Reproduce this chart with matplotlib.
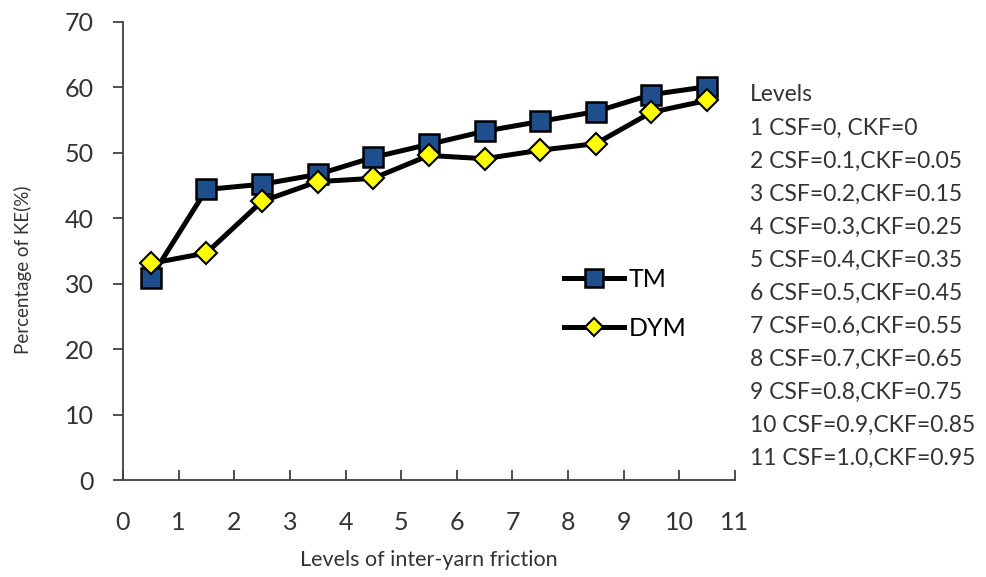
import numpy as np
import matplotlib
matplotlib.use("Agg")
import matplotlib.pyplot as plt

plt.rcParams['font.family'] = ['Lato', 'DejaVu Sans']

# levels sit between the integer ticks
levels = [0.5, 1.5, 2.5, 3.5, 4.5, 5.5, 6.5, 7.5, 8.5, 9.5, 10.5]
tm = [30.9, 44.4, 45.2, 46.7, 49.3, 51.3, 53.3, 54.8, 56.3, 58.9, 60.1]
dym = [33.1, 34.7, 42.6, 45.6, 46.1, 49.6, 49.1, 50.4, 51.4, 56.2, 58.0]

level_notes = ["Levels",
               "1 CSF=0, CKF=0",
               "2 CSF=0.1,CKF=0.05",
               "3 CSF=0.2,CKF=0.15",
               "4 CSF=0.3,CKF=0.25",
               "5 CSF=0.4,CKF=0.35",
               "6 CSF=0.5,CKF=0.45",
               "7 CSF=0.6,CKF=0.55",
               "8 CSF=0.7,CKF=0.65",
               "9 CSF=0.8,CKF=0.75",
               "10 CSF=0.9,CKF=0.85",
               "11 CSF=1.0,CKF=0.95"]

fig = plt.figure(figsize=(9.87, 5.77), dpi=100)
ax = fig.add_axes([0.1246, 0.168, 0.62, 0.794])

ax.plot(levels, tm, "-s", color="black", lw=3.6, markersize=15,
        markerfacecolor="#1f4e8c", markeredgecolor="black", markeredgewidth=1.8, label="TM")
ax.plot(levels, dym, "-D", color="black", lw=3.6, markersize=11,
        markerfacecolor="#ffff00", markeredgecolor="black", markeredgewidth=1.5, label="DYM")

ax.set_xlim(0, 11)
ax.set_ylim(0, 70)
ax.set_xticks(range(0, 12))
ax.set_yticks(range(0, 80, 10))
ax.spines["top"].set_visible(False)
ax.spines["right"].set_visible(False)
for s in ["left", "bottom"]:
    ax.spines[s].set_color("#404040")
    ax.spines[s].set_linewidth(1.3)
ax.tick_params(axis="y", direction="out", length=7, width=1.3, color="#404040",
               labelsize=18, pad=14, labelcolor="#333333")
ax.tick_params(axis="x", direction="in", length=7, width=1.3, color="#404040",
               labelsize=18, pad=22, labelcolor="#333333")

ax.set_xlabel("Levels of inter-yarn friction", fontsize=15.5, color="#333333", labelpad=12)
ax.set_ylabel("Percentage of KE(%)", fontsize=13.5, color="#333333")
ax.yaxis.set_label_coords(-0.148, 0.46)

ax.legend(loc="center left", bbox_to_anchor=(0.70, 0.385), frameon=False, fontsize=18,
          handlelength=2.4, handletextpad=0.2, labelspacing=1.05, borderpad=0,
          markerscale=0.85)

for i, t in enumerate(level_notes):
    fig.text(750 / 987, 1 - (95 + 33 * i) / 577, t, fontsize=16.5, color="#333333",
             va="center", ha="left")

fig.savefig("out.png", dpi=100)
